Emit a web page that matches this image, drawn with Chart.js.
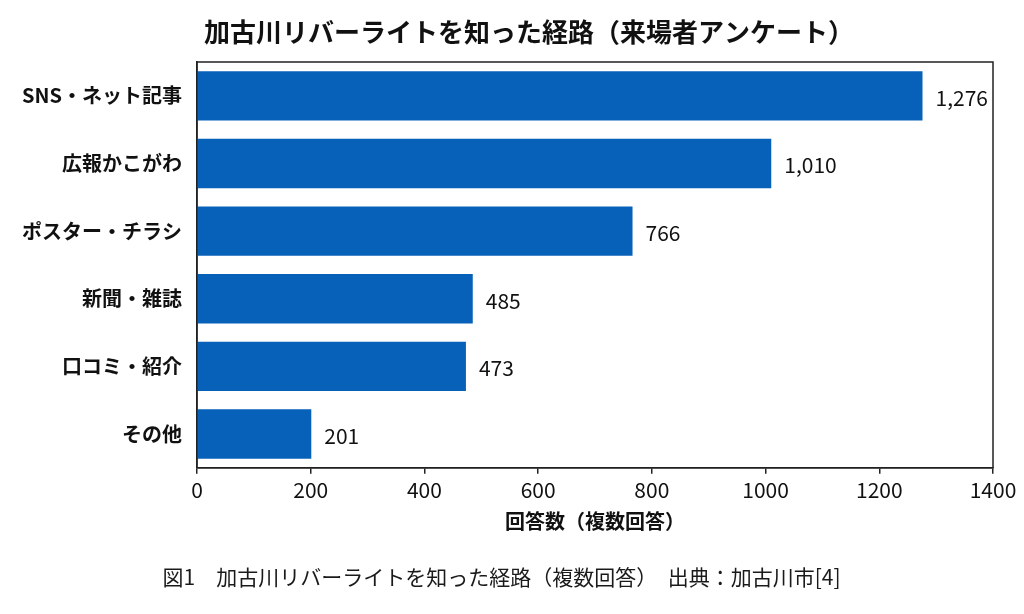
<!DOCTYPE html>
<html><head><meta charset="utf-8">
<script src="https://cdn.jsdelivr.net/npm/chart.js@4.4.1/dist/chart.umd.min.js"></script>
<style>html,body{margin:0;padding:0;background:#fff}#wrap{width:1024px;height:614px}</style>
</head><body><div id="wrap"><canvas id="c" width="1024" height="614"></canvas></div>
<script>
const categories = ['SNS・ネット記事','広報かこがわ','ポスター・チラシ','新聞・雑誌','口コミ・紹介','その他'];
const responses = [1276, 1010, 766, 485, 473, 201];
const xTicks = [0, 200, 400, 600, 800, 1000, 1200, 1400];
const titleText = '加古川リバーライトを知った経路（来場者アンケート）';
const xTitle = '回答数（複数回答）';
const captionText = '図1　加古川リバーライトを知った経路（複数回答）　出典：加古川市[4]';

const FONT = '"Noto Sans CJK JP", "Noto Sans", sans-serif';

const boxPlugin = {
  id: 'box',
  afterDatasetsDraw(chart) {
    const {ctx, chartArea: a} = chart;
    ctx.save();
    ctx.strokeStyle = '#222';
    ctx.lineWidth = 1.5;
    ctx.strokeRect(a.left, a.top, a.right - a.left, a.bottom - a.top);
    ctx.restore();
  }
};
const labelPlugin = {
  id: 'vals',
  afterDatasetsDraw(chart) {
    const {ctx} = chart;
    const meta = chart.getDatasetMeta(0);
    ctx.save();
    ctx.font = '21px ' + FONT;
    ctx.fillStyle = '#111';
    ctx.textBaseline = 'middle';
    ctx.textAlign = 'left';
    meta.data.forEach((bar, i) => {
      ctx.fillText(responses[i].toLocaleString('en-US'), bar.x + 13, bar.y + 2);
    });
    ctx.restore();
  }
};
const titlePlugin = {
  id: 'mainTitle',
  afterDraw(chart) {
    const {ctx} = chart;
    ctx.save();
    ctx.font = 'bold 26px ' + FONT;
    ctx.fillStyle = '#111';
    ctx.textAlign = 'center';
    ctx.textBaseline = 'middle';
    ctx.fillText(titleText, 529, 32);
    ctx.restore();
  }
};

new Chart(document.getElementById('c'), {
  type: 'bar',
  data: {
    labels: categories,
    datasets: [{
      data: responses,
      backgroundColor: '#0861b9',
      borderWidth: 0,
      barPercentage: 0.73,
      categoryPercentage: 1
    }]
  },
  options: {
    indexAxis: 'y',
    responsive: false,
    animation: false,
    layout: {padding: {left: 10, right: 31, top: 62, bottom: 0}},
    plugins: {
      legend: {display: false},
      tooltip: {enabled: false},
      title: {display: false},
      subtitle: {
        display: true, text: captionText, position: 'bottom', color: '#1a1a1a',
        font: {family: FONT, size: 21},
        padding: {top: 9, bottom: 24}
      }
    },
    scales: {
      x: {
        min: 0, max: 1400,
        afterBuildTicks(scale) { scale.ticks = xTicks.map(v => ({value: v})); },
        afterFit(scale) { scale.height = 88; },
        ticks: {color: '#111', font: {family: FONT, size: 21}, padding: 4, maxRotation: 0,
                callback: (v) => String(v)},
        grid: {display: true, drawOnChartArea: false, drawTicks: true, tickLength: 6, color: '#222', lineWidth: 1.5},
        border: {display: true, color: '#222', width: 1.5},
        title: {display: true, text: xTitle, color: '#111', font: {family: FONT, size: 20, weight: 'bold'}, padding: {top: 4, bottom: 22}}
      },
      y: {
        afterFit(scale) { scale.width = 187; },
        ticks: {color: '#111', font: {family: FONT, size: 20, weight: 'bold'}, padding: 7},
        grid: {display: false},
        border: {display: true, color: '#222', width: 1.5}
      }
    }
  },
  plugins: [boxPlugin, labelPlugin, titlePlugin]
});
</script></body></html>
